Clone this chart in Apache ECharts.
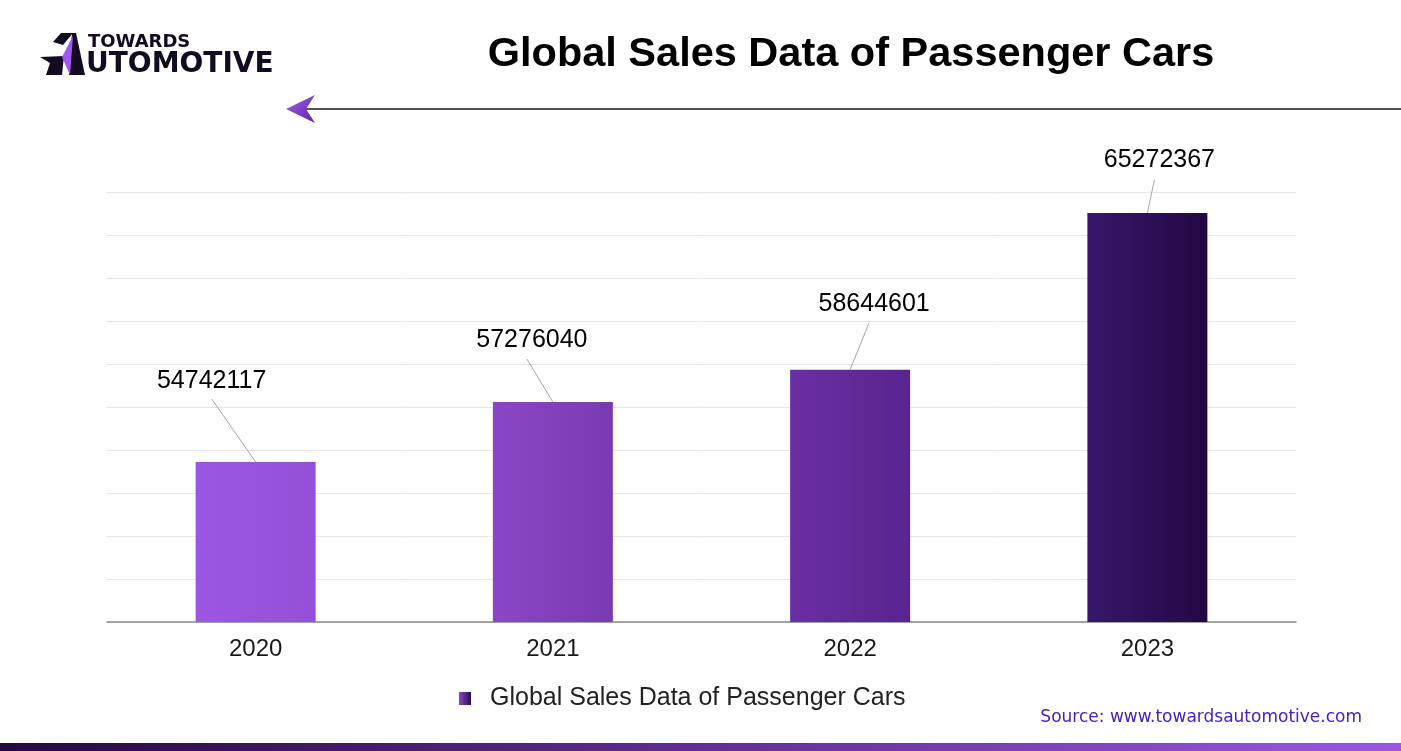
<!DOCTYPE html>
<html><head><meta charset="utf-8">
<script src="https://cdn.jsdelivr.net/npm/echarts@6/dist/echarts.min.js"></script>
<style>html,body{margin:0;padding:0;background:#fff}#c{width:1401px;height:751px}</style>
</head><body><div id="c"></div>
<script>
const categories = ['2020', '2021', '2022', '2023'];
const salesValues = [54742117, 57276040, 58644601, 65272367];
const seriesName = 'Global Sales Data of Passenger Cars';
const titleText = 'Global Sales Data of Passenger Cars';
const sourceText = 'Source: www.towardsautomotive.com';

// styles (not data)
const barColors = [['#9c56e2', '#954fd7'], ['#8b46c6', '#7a3bb1'], ['#6a2fa4', '#58248e'], ['#37176b', '#230843']];
const labelOffsets = [[-44, -81, -44, -63], [-21, -62, -26, -43], [24, -66, 19, -47], [12, -53, 7, -33]];

function hGrad(a, b) {
  return new echarts.graphic.LinearGradient(0, 0, 1, 0, [{offset: 0, color: a}, {offset: 1, color: b}]);
}

const chart = echarts.init(document.getElementById('c'), null, {renderer: 'canvas'});
const option = {
  backgroundColor: '#ffffff',
  animation: false,
  grid: {left: 107, right: 105, top: 192, bottom: 129},
  legend: {
    left: 459, top: 686, padding: 0,
    data: [{name: seriesName, itemStyle: {color: hGrad('#8a45c8', '#2a0a50')}}],
    icon: 'rect', itemWidth: 12, itemHeight: 13,
    textStyle: {fontFamily: 'Liberation Sans, Arial', fontSize: 25, color: '#222', padding: [0, 0, 0, 14]}
  },
  xAxis: {
    type: 'category', data: categories,
    axisLine: {lineStyle: {color: '#8a8a8a', width: 1.5}},
    axisTick: {show: false},
    axisLabel: {fontFamily: 'Liberation Sans, Arial', fontSize: 24, color: '#1a1a1a', margin: 15}
  },
  yAxis: [
    {type: 'value', min: 47970000, max: 66160000, show: false, splitLine: {show: false}},
    {type: 'value', min: 0, max: 10, interval: 1, position: 'left',
     axisLabel: {show: false}, axisLine: {show: false}, axisTick: {show: false},
     splitLine: {lineStyle: {color: '#e6e6e6', width: 1}}}
  ],
  series: [
    {
      name: seriesName, type: 'bar', yAxisIndex: 0, barWidth: 120,
      data: salesValues.map((v, i) => ({value: v, itemStyle: {color: hGrad(barColors[i][0], barColors[i][1])}})),
      itemStyle: {color: hGrad('#8a45c8', '#2a0a50')}
    },
    {
      type: 'custom', yAxisIndex: 0, z: 5,
      data: categories.map((c, i) => [i, salesValues[i]]),
      renderItem: function (params, api) {
        const i = params.dataIndex;
        const p = api.coord([api.value(0), api.value(1)]);
        const o = labelOffsets[i];
        return {
          type: 'group', children: [
            {type: 'line', shape: {x1: p[0], y1: p[1], x2: p[0] + o[2], y2: p[1] + o[3]},
             style: {stroke: '#a6a6a6', lineWidth: 1}},
            {type: 'text', x: p[0] + o[0], y: p[1] + o[1],
             style: {text: String(salesValues[i]), fill: '#000', fontSize: 25,
                     fontFamily: 'Liberation Sans, Arial', align: 'center', verticalAlign: 'middle'}}
          ]
        };
      }
    }
  ],
  graphic: [
    {type: 'text', x: 851, y: 55,
     style: {text: titleText, fontSize: 41.5, fontWeight: 'bold', fontFamily: 'Liberation Sans, Arial', fill: '#000',
             align: 'center', verticalAlign: 'middle'}},
    // logo
    {type: 'polygon', shape: {points: [[61, 33], [73, 33], [63, 45], [53, 42]]}, style: {fill: '#140a22'}},
    {type: 'polygon', shape: {points: [[72, 33], [76, 33], [85, 75], [69, 75]]}, style: {fill: '#140a22'}},
    {type: 'polygon', shape: {points: [[40, 57], [64, 56], [62, 75], [46, 75], [50, 63]]}, style: {fill: '#140a22'}},
    {type: 'polygon', shape: {points: [[73, 36], [62, 57], [70, 75]]}, style: {fill: '#a057f5'}},
    {type: 'text', x: 88, y: 33, style: {text: 'TOWARDS', fontSize: 18, fontWeight: 'bold', fontFamily: 'DejaVu Sans', fill: '#140a22'}},
    {type: 'text', x: 86, y: 51, style: {text: 'UTOMOTIVE', fontSize: 28, fontWeight: 'bold', fontFamily: 'DejaVu Sans', fill: '#140a22'}},
    // arrow line
    {type: 'line', shape: {x1: 300, y1: 109, x2: 1401, y2: 109}, style: {stroke: '#1a1a1a', lineWidth: 1.5}},
    {type: 'polygon', shape: {points: [[286, 109], [315, 95], [306, 109], [315, 123]]},
     style: {fill: new echarts.graphic.LinearGradient(0, 0, 1, 1, [{offset: 0, color: '#a35ef0'}, {offset: 1, color: '#5a26a8'}])}},
    // source
    {type: 'text', x: 1362, y: 718,
     style: {text: sourceText, fontSize: 17, fontFamily: 'DejaVu Sans', fill: '#4a20c0', align: 'right', verticalAlign: 'middle'}},
    // bottom stripe
    {type: 'rect', shape: {x: 0, y: 743, width: 1401, height: 8},
     style: {fill: hGrad('#240840', '#9c56e2')}}
  ]
};
chart.setOption(option);
</script>
</body></html>
